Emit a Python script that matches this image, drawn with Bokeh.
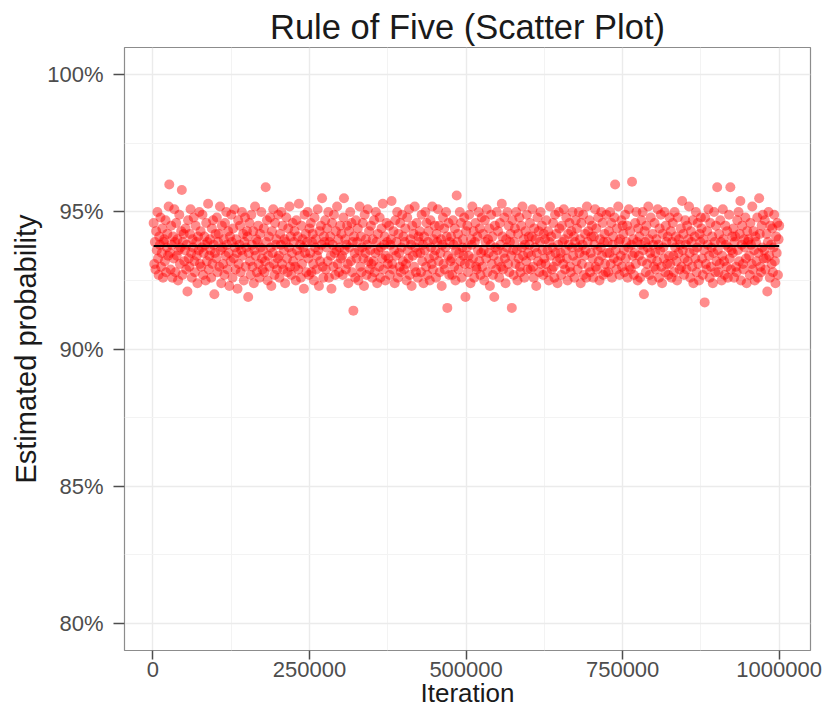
from bokeh.plotting import figure
from bokeh.models import Range1d, FixedTicker, PrintfTickFormatter, ColumnDataSource
from bokeh.embed import file_html
from bokeh.resources import INLINE

# ---------------- data ----------------
title_text = "Rule of Five (Scatter Plot)"
x_title = "Iteration"
y_title = "Estimated probability"
x_ticks = [0, 250000, 500000, 750000, 1000000]
x_minor_ticks = [125000, 375000, 625000, 875000]
y_ticks = [80, 85, 90, 95, 100]
y_minor_ticks = [82.5, 87.5, 92.5, 97.5]
overall_estimate = 93.76      # black reference line (percent)
iteration_step = 1000

# estimated probability (percent) for each block of 1000 iterations
estimates = (
    [94.6, 93.1, 93.9, 92.9, 94.3, 93.6, 95.0, 93.3, 92.7, 94.1, 93.8, 94.8, 93.0, 93.5, 94.4, 92.6, 93.9, 94.0, 93.2, 94.7, 92.8, 93.7, 94.2, 93.4, 95.2]
    + [96.0, 93.5, 92.9, 94.5, 93.8, 92.6, 94.1, 93.3, 95.1, 93.9, 92.8, 94.6, 93.4, 94.0, 92.5, 93.6, 94.9, 93.1, 93.7, 94.3, 95.8, 92.7, 93.9, 94.2, 93.2]
    + [93.6, 94.4, 92.9, 93.8, 92.1, 94.7, 93.3, 93.0, 94.2, 95.1, 93.5, 92.6, 94.0, 93.7, 94.8, 93.2, 92.8, 94.5, 93.9, 93.4, 92.4, 94.1, 93.6, 95.0, 93.1]
    + [94.3, 93.0, 93.7, 94.9, 92.7, 93.5, 94.1, 93.8, 92.5, 94.6, 93.2, 93.9, 95.3, 92.9, 93.4, 94.0, 93.6, 92.6, 94.4, 93.1, 94.7, 93.8, 92.0, 93.5, 94.2]
    + [93.3, 94.8, 92.8, 93.9, 94.2, 93.0, 95.2, 93.6, 92.4, 94.5, 93.7, 93.1, 94.0, 92.7, 94.6, 93.4, 95.0, 93.8, 92.9, 94.3, 93.5, 92.3, 94.1, 93.2, 94.9]
    + [93.9, 92.6, 94.4, 93.3, 95.1, 93.7, 92.9, 94.0, 93.5, 92.2, 94.7, 93.1, 93.8, 94.5, 92.8, 93.6, 95.0, 93.4, 94.2, 92.5, 93.9, 94.8, 93.0, 93.7, 94.3]
    + [94.1, 91.9, 93.5, 94.6, 93.2, 92.7, 94.9, 93.8, 93.0, 94.3, 92.4, 93.6, 95.2, 93.4, 94.0, 92.8, 93.9, 94.5, 93.1, 92.6, 94.2, 93.7, 95.0, 93.3, 92.9]
    + [93.6, 94.4, 92.8, 93.2, 95.9, 93.9, 94.7, 92.5, 93.4, 94.1, 93.0, 94.8, 93.7, 92.3, 94.3, 93.5, 95.1, 93.1, 92.7, 94.6, 93.8, 94.0, 92.9, 93.3, 94.9]
    + [93.4, 92.6, 94.2, 93.8, 95.0, 93.1, 94.5, 92.9, 93.6, 94.0, 92.4, 93.9, 94.8, 93.3, 92.8, 94.4, 93.7, 95.2, 93.0, 94.1, 92.7, 93.5, 94.6, 93.2, 93.9]
    + [94.3, 93.0, 92.5, 94.7, 93.6, 94.1, 92.9, 95.3, 93.4, 93.8, 92.6, 94.5, 93.1, 94.0, 93.7, 92.2, 94.9, 93.5, 94.2, 92.8, 93.9, 95.0, 93.3, 92.7, 94.4]
    + [93.5, 94.6, 92.8, 93.9, 94.2, 93.1, 92.5, 94.8, 93.7, 94.0, 92.9, 93.4, 95.1, 93.6, 92.3, 94.3, 93.2, 94.5, 93.8, 95.5, 93.0, 92.6, 94.1, 93.9, 94.7]
    + [92.9, 93.7, 94.4, 93.2, 95.0, 92.6, 93.9, 94.1, 93.4, 92.2, 94.6, 93.8, 93.0, 94.9, 93.5, 92.7, 94.3, 93.6, 95.2, 93.1, 94.0, 92.8, 93.7, 94.5, 93.3]
    + [94.2, 93.4, 92.7, 94.8, 95.5, 93.6, 94.0, 92.9, 93.8, 94.5, 93.1, 92.4, 94.3, 93.7, 95.0, 93.2, 94.6, 92.8, 93.9, 91.4, 94.1, 93.5, 92.6, 94.7, 93.3]
    + [93.9, 94.4, 92.5, 93.6, 95.2, 93.0, 94.1, 92.8, 93.7, 94.6, 93.3, 92.3, 94.9, 93.5, 94.0, 92.7, 93.8, 95.1, 93.2, 94.3, 92.9, 93.6, 94.5, 93.1, 92.6]
    + [94.0, 93.2, 94.7, 92.8, 93.5, 95.0, 93.9, 92.4, 94.2, 93.6, 93.0, 94.8, 92.6, 93.7, 94.4, 93.3, 95.3, 92.9, 93.8, 94.1, 92.5, 93.4, 94.6, 93.9, 93.1]
    + [93.3, 94.5, 92.7, 93.8, 94.0, 95.4, 93.1, 92.9, 94.3, 93.6, 92.4, 94.7, 93.4, 93.9, 95.0, 92.6, 94.2, 93.5, 93.0, 94.6, 92.8, 93.7, 94.9, 93.2, 94.1]
    + [92.9, 93.9, 94.4, 93.1, 92.5, 94.8, 93.6, 93.3, 95.1, 92.7, 94.0, 93.8, 92.3, 94.5, 93.4, 94.2, 93.0, 95.2, 93.7, 92.8, 94.6, 93.5, 92.6, 94.1, 93.9]
    + [94.3, 93.5, 92.8, 94.9, 93.2, 93.8, 92.4, 94.1, 93.6, 95.0, 93.0, 94.6, 92.7, 93.9, 94.3, 93.3, 92.5, 94.7, 93.7, 93.1, 95.2, 92.9, 94.0, 93.4, 94.5]
    + [93.6, 92.6, 94.2, 93.9, 95.1, 93.2, 94.5, 92.8, 93.5, 94.0, 92.3, 93.8, 94.8, 93.1, 94.4, 92.9, 93.7, 95.0, 94.1, 91.5, 93.4, 94.6, 92.7, 93.9, 93.2]
    + [94.1, 93.3, 92.7, 94.7, 93.8, 93.0, 94.4, 92.5, 93.6, 95.6, 93.9, 94.2, 92.9, 93.5, 95.0, 93.2, 94.6, 92.6, 93.7, 94.0, 93.4, 94.8, 93.1, 91.9, 94.3]
    + [93.7, 94.5, 92.8, 93.4, 94.9, 93.1, 92.4, 94.0, 93.8, 95.2, 93.3, 94.3, 92.6, 93.9, 94.6, 93.0, 92.9, 94.1, 93.6, 95.0, 93.2, 94.4, 92.7, 93.5, 94.8]
    + [93.0, 94.2, 93.6, 92.5, 94.7, 93.9, 93.3, 95.1, 92.8, 94.0, 93.5, 94.4, 92.3, 93.8, 94.9, 93.1, 94.1, 92.7, 93.4, 91.9, 94.5, 93.7, 92.9, 95.0, 93.6]
    + [94.3, 93.2, 92.6, 94.6, 93.8, 93.0, 95.3, 94.1, 92.9, 93.5, 94.8, 93.3, 92.4, 94.0, 93.7, 95.0, 93.1, 94.5, 92.8, 93.9, 94.2, 93.4, 91.5, 94.7, 93.6]
    + [92.7, 93.9, 94.4, 93.1, 95.0, 93.6, 92.5, 94.2, 93.3, 94.8, 93.0, 92.8, 94.5, 93.7, 95.2, 93.4, 94.0, 92.6, 93.8, 94.3, 93.2, 94.9, 92.9, 93.5, 94.1]
    + [93.8, 94.6, 92.9, 93.4, 94.1, 95.1, 93.0, 92.6, 94.4, 93.7, 94.0, 92.3, 93.5, 94.8, 93.2, 94.3, 92.8, 93.9, 95.0, 93.1, 94.5, 93.6, 92.7, 94.2, 93.3]
    + [94.0, 93.1, 94.7, 92.8, 93.6, 94.3, 92.5, 93.9, 95.2, 93.4, 94.1, 92.9, 93.7, 94.6, 93.0, 92.6, 94.9, 93.5, 94.2, 93.2, 92.4, 93.8, 95.0, 94.4, 93.3]
    + [93.5, 92.7, 94.5, 93.9, 93.1, 95.1, 94.0, 92.9, 93.6, 94.8, 93.3, 92.5, 94.2, 93.8, 94.6, 93.0, 92.8, 94.3, 93.7, 95.0, 93.4, 94.1, 92.6, 93.9, 94.7]
    + [93.2, 94.4, 92.9, 93.7, 95.0, 93.5, 94.0, 92.4, 94.6, 93.1, 93.8, 94.9, 92.7, 93.4, 94.2, 93.6, 92.6, 95.2, 93.9, 94.3, 93.0, 94.7, 92.8, 93.5, 94.1]
    + [94.5, 93.3, 92.6, 94.1, 93.8, 95.1, 93.0, 94.4, 92.9, 93.6, 94.8, 93.2, 92.5, 94.0, 93.7, 95.0, 93.4, 94.6, 92.7, 93.9, 94.2, 93.1, 92.8, 94.9, 93.5]
    + [93.9, 92.8, 94.3, 93.5, 95.0, 93.1, 94.6, 92.6, 93.8, 94.1, 93.3, 94.8, 96.0, 93.6, 92.9, 94.4, 93.2, 95.2, 93.9, 92.7, 94.0, 93.4, 94.7, 93.0, 94.5]
    + [94.2, 93.6, 92.8, 94.9, 93.3, 93.9, 94.5, 92.6, 93.7, 95.1, 93.0, 94.3, 92.9, 93.8, 96.1, 93.4, 94.0, 92.7, 93.5, 94.6, 93.1, 95.0, 93.9, 92.5, 94.4]
    + [93.4, 94.1, 92.6, 93.8, 94.7, 93.2, 95.0, 93.6, 92.0, 94.3, 93.9, 92.8, 94.5, 93.1, 93.7, 95.2, 94.0, 92.7, 93.5, 94.8, 93.3, 92.5, 94.2, 93.8, 93.0]
    + [94.6, 93.5, 92.9, 94.0, 93.2, 95.1, 93.8, 92.6, 94.4, 93.6, 94.9, 93.0, 92.4, 94.2, 93.7, 93.3, 95.0, 92.8, 94.5, 93.9, 93.1, 94.1, 92.7, 93.4, 94.8]
    + [93.1, 94.3, 92.6, 93.9, 94.6, 93.4, 92.8, 95.0, 93.7, 94.1, 93.2, 92.5, 94.8, 93.5, 94.0, 92.9, 93.8, 94.4, 93.0, 95.4, 93.6, 94.2, 92.7, 93.3, 94.7]
    + [93.8, 92.9, 94.5, 93.2, 94.0, 95.2, 93.5, 92.6, 94.3, 93.9, 93.0, 94.7, 92.4, 93.6, 94.1, 93.3, 95.0, 92.8, 93.7, 94.6, 93.1, 92.5, 94.2, 93.9, 94.8]
    + [94.4, 93.3, 92.7, 94.0, 93.6, 91.7, 94.8, 93.1, 92.9, 94.3, 93.8, 95.1, 93.4, 92.6, 94.6, 93.0, 93.7, 94.1, 92.4, 93.5, 95.0, 93.9, 92.8, 94.5, 93.2]
    + [95.9, 93.6, 92.8, 94.2, 93.1, 94.7, 93.9, 92.5, 93.4, 95.1, 94.0, 93.2, 92.7, 94.5, 93.8, 93.0, 94.3, 92.6, 93.7, 94.9, 93.3, 95.9, 92.9, 93.6, 94.1]
    + [93.5, 94.4, 92.6, 93.9, 94.1, 93.0, 92.8, 94.7, 93.6, 95.0, 93.2, 94.2, 95.4, 92.5, 93.8, 94.5, 93.1, 92.9, 94.0, 93.7, 94.8, 93.3, 92.4, 94.3, 93.9]
    + [94.0, 93.4, 92.7, 94.6, 93.8, 93.1, 95.2, 92.9, 94.3, 93.6, 92.5, 94.1, 93.9, 93.2, 94.8, 92.6, 93.5, 95.5, 94.2, 93.0, 92.8, 94.5, 93.7, 94.9, 93.3]
    + [93.6, 94.7, 92.9, 93.3, 94.2, 92.1, 93.9, 95.0, 93.4, 92.6, 94.5, 93.8, 93.1, 94.4, 92.8, 93.7, 94.9, 93.2, 92.4, 94.1, 93.5, 94.6, 92.7, 94.0, 94.5]
)
iterations = [iteration_step * (i + 1) for i in range(len(estimates))]

# ---------------- figure ----------------
FONT = "Liberation Sans"
p = figure(width=823, height=711, output_backend="svg", toolbar_location=None,
           x_range=Range1d(-45500, 1050000), y_range=Range1d(79, 101),
           min_border_left=124, min_border_right=13, min_border_top=47,
           min_border_bottom=61)
p.background_fill_color = "white"
p.border_fill_color = "white"
p.outline_line_color = "#8c8c8c"
p.outline_line_width = 1.2

p.title.text = title_text
p.title.align = "center"
p.title.text_font = FONT
p.title.text_font_size = "34.5px"
p.title.text_font_style = "normal"
p.title.text_color = "#1a1a1a"
p.title.standoff = 3

p.xaxis.ticker = FixedTicker(ticks=x_ticks, minor_ticks=x_minor_ticks)
p.yaxis.ticker = FixedTicker(ticks=y_ticks, minor_ticks=y_minor_ticks)
p.xaxis.formatter = PrintfTickFormatter(format="%d")
p.yaxis.formatter = PrintfTickFormatter(format="%d%%")
p.xaxis.axis_label = x_title
p.yaxis.axis_label = y_title

for ax in (p.xaxis[0], p.yaxis[0]):
    ax.axis_line_color = None
    ax.major_tick_line_color = "#4d4d4d"
    ax.major_tick_line_width = 1.5
    ax.major_tick_in = 0
    ax.minor_tick_line_color = None
    ax.major_label_text_font = FONT
    ax.major_label_text_font_size = "22px"
    ax.major_label_text_color = "#4d4d4d"
    ax.axis_label_text_font = FONT
    ax.axis_label_text_font_style = "normal"
    ax.axis_label_text_color = "#1a1a1a"

p.xaxis.axis_label_text_font_size = "26px"
p.yaxis.axis_label_text_font_size = "29px"
p.xaxis.major_tick_out = 9
p.xaxis.major_label_standoff = 2
p.xaxis.axis_label_standoff = -2
p.yaxis.major_tick_out = 11
p.yaxis.major_label_standoff = 10
p.yaxis.axis_label_standoff = 2

for g in (p.xgrid[0], p.ygrid[0]):
    g.grid_line_color = "#ebebeb"
    g.grid_line_width = 1.4
    g.minor_grid_line_color = "#f3f3f3"
    g.minor_grid_line_width = 1.0

src = ColumnDataSource(data=dict(iteration=iterations, estimate=estimates))
p.scatter(x="iteration", y="estimate", source=src, size=10,
          fill_color="#ff0000", fill_alpha=0.45, line_color=None)
p.line(x=[iterations[0], iterations[-1]], y=[overall_estimate, overall_estimate],
       line_color="black", line_width=2)

open("out.html", "w").write(file_html(p, INLINE))
